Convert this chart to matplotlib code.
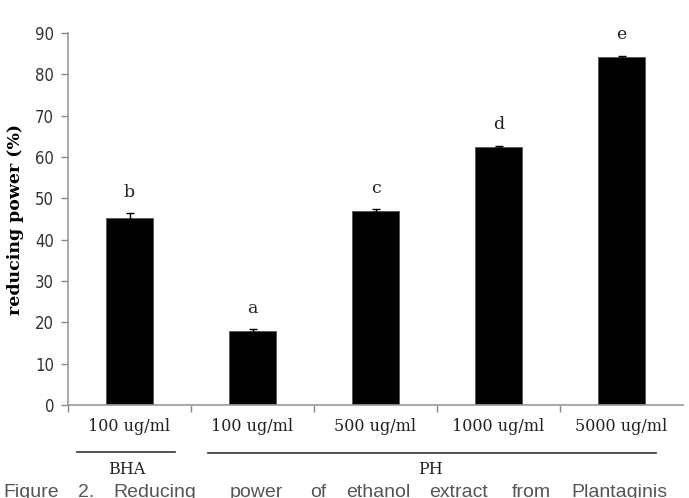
import matplotlib
matplotlib.use("Agg")
import matplotlib.pyplot as plt
import matplotlib.transforms as mtransforms

categories = ["100 ug/ml", "100 ug/ml", "500 ug/ml", "1000 ug/ml", "5000 ug/ml"]
values = [45.2, 18.0, 47.0, 62.4, 84.2]
errors = [1.2, 0.3, 0.3, 0.3, 0.3]
letters = ["b", "a", "c", "d", "e"]
groups = ["BHA", "PH"]
yticks = [0, 10, 20, 30, 40, 50, 60, 70, 80, 90]
caption_words = ["Figure", "2.", "Reducing", "power", "of", "ethanol", "extract", "from", "Plantaginis"]

fig = plt.figure(figsize=(6.89, 4.98), dpi=100)
ax = fig.add_axes([68/689, 1-405/498, 615/689, 372/498])

x = list(range(len(values)))
ax.bar(x, values, width=0.39, color="black", edgecolor="#555555", linewidth=0.6, zorder=2)
ax.errorbar(x, values, yerr=errors, fmt="none", ecolor="black", elinewidth=1.0,
            capsize=3, capthick=1.0, zorder=3)

for xi, v, e, l in zip(x, values, errors, letters):
    ax.annotate(l, (xi, v + e), xytext=(0, 9), textcoords="offset points",
                ha="center", va="bottom", fontsize=12.5, family="DejaVu Serif",
                color="#222222")

ax.set_xlim(-0.5, 4.5)
ax.set_ylim(0, 90)
ax.set_yticks(yticks)
ax.set_yticklabels([str(t) for t in yticks], fontsize=12, color="#333333",
                   family="DejaVu Sans", fontstretch="condensed")
ax.set_xticks(x)
ax.set_xticklabels(categories, fontsize=11.5, family="DejaVu Serif", color="#222222")
ax.tick_params(axis="x", which="major", length=0, pad=9)
ax.set_xticks([-0.5, 0.5, 1.5, 2.5, 3.5], minor=True)
ax.tick_params(axis="x", which="minor", length=5, color="#888888", width=1)
ax.tick_params(axis="y", length=5, color="#888888", width=1, pad=5)

for s in ["top", "right"]:
    ax.spines[s].set_visible(False)
for s in ["left", "bottom"]:
    ax.spines[s].set_color("#999999")
    ax.spines[s].set_linewidth(1.2)

ax.set_ylabel("reducing power (%)", fontsize=12.5, fontweight="bold",
              family="DejaVu Serif")
ax.yaxis.set_label_coords(-0.072, 0.5)

trans = mtransforms.blended_transform_factory(ax.transData, ax.transAxes)
ax.plot([-0.43, 0.37], [-0.126, -0.126], transform=trans, color="#333333",
        lw=1.2, clip_on=False)
ax.plot([0.64, 4.28], [-0.13, -0.13], transform=trans, color="#333333",
        lw=1.2, clip_on=False)
ax.text(-0.02, -0.15, groups[0], transform=trans, ha="center", va="top",
        fontsize=11.5, family="DejaVu Serif", color="#222222")
ax.text(2.45, -0.15, groups[1], transform=trans, ha="center", va="top",
        fontsize=11.5, family="DejaVu Serif", color="#222222")

cap_x = [3, 78, 113, 230, 310, 346, 429, 512, 571]
for w, px in zip(caption_words, cap_x):
    fig.text(px/689, 1-484/498, w, ha="left", va="top", fontsize=14,
             family="Liberation Sans", color="#555555")

fig.savefig("out.png", dpi=100)
